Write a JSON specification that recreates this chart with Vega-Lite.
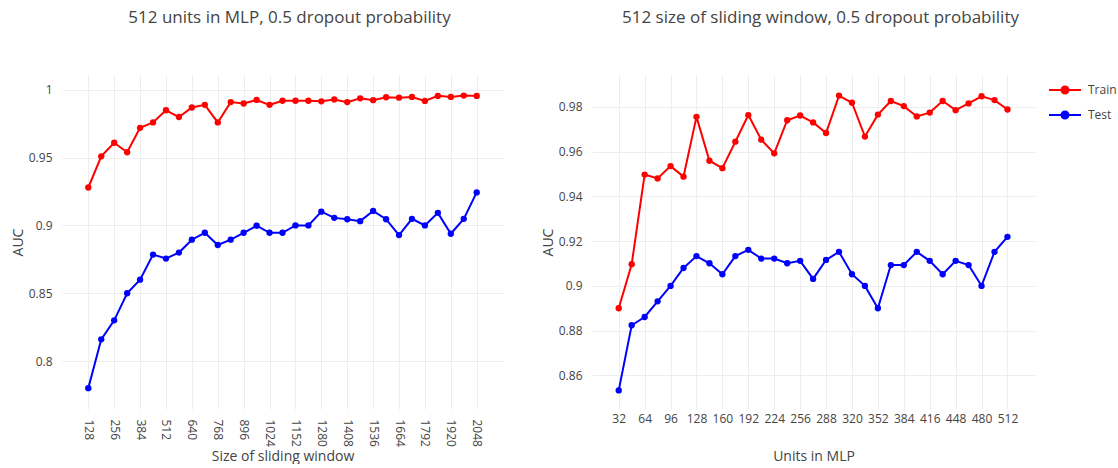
{
  "$schema": "https://vega.github.io/schema/vega-lite/v6.json",
  "padding": {"left": 11, "top": 9, "right": 0, "bottom": 0},
  "background": "white",
  "spacing": 38,
  "config": {
    "font": "Open Sans",
    "view": {"stroke": null},
    "axis": {"labelFont": "Open Sans", "labelFontSize": 12, "labelColor": "#444444", "titleFont": "Open Sans", "titleFontSize": 14, "titleColor": "#444444", "titleFontWeight": "normal", "gridColor": "#eeeeee", "gridWidth": 1, "domain": false, "ticks": false, "labelOverlap": false},
    "title": {"font": "Open Sans", "fontSize": 17, "color": "#444444", "fontWeight": "normal", "anchor": "middle", "frame": "group"}
  },
  "datasets": {
    "mlp": [
      {"size": 128, "series": "Train", "auc": 0.928}, {"size": 192, "series": "Train", "auc": 0.951}, {"size": 256, "series": "Train", "auc": 0.961}, {"size": 320, "series": "Train", "auc": 0.954}, {"size": 384, "series": "Train", "auc": 0.972}, {"size": 448, "series": "Train", "auc": 0.976}, {"size": 512, "series": "Train", "auc": 0.985}, {"size": 576, "series": "Train", "auc": 0.980}, {"size": 640, "series": "Train", "auc": 0.987}, {"size": 704, "series": "Train", "auc": 0.989}, {"size": 768, "series": "Train", "auc": 0.976}, {"size": 832, "series": "Train", "auc": 0.991}, {"size": 896, "series": "Train", "auc": 0.990}, {"size": 960, "series": "Train", "auc": 0.9926}, {"size": 1024, "series": "Train", "auc": 0.989}, {"size": 1088, "series": "Train", "auc": 0.992}, {"size": 1152, "series": "Train", "auc": 0.992}, {"size": 1216, "series": "Train", "auc": 0.992}, {"size": 1280, "series": "Train", "auc": 0.9916}, {"size": 1344, "series": "Train", "auc": 0.993}, {"size": 1408, "series": "Train", "auc": 0.991}, {"size": 1472, "series": "Train", "auc": 0.9938}, {"size": 1536, "series": "Train", "auc": 0.9924}, {"size": 1600, "series": "Train", "auc": 0.9946}, {"size": 1664, "series": "Train", "auc": 0.9943}, {"size": 1728, "series": "Train", "auc": 0.9948}, {"size": 1792, "series": "Train", "auc": 0.9919}, {"size": 1856, "series": "Train", "auc": 0.9956}, {"size": 1920, "series": "Train", "auc": 0.9948}, {"size": 1984, "series": "Train", "auc": 0.9958}, {"size": 2048, "series": "Train", "auc": 0.9956},
      {"size": 128, "series": "Test", "auc": 0.780}, {"size": 192, "series": "Test", "auc": 0.816}, {"size": 256, "series": "Test", "auc": 0.830}, {"size": 320, "series": "Test", "auc": 0.850}, {"size": 384, "series": "Test", "auc": 0.860}, {"size": 448, "series": "Test", "auc": 0.8785}, {"size": 512, "series": "Test", "auc": 0.8756}, {"size": 576, "series": "Test", "auc": 0.880}, {"size": 640, "series": "Test", "auc": 0.8895}, {"size": 704, "series": "Test", "auc": 0.8946}, {"size": 768, "series": "Test", "auc": 0.8856}, {"size": 832, "series": "Test", "auc": 0.8895}, {"size": 896, "series": "Test", "auc": 0.8946}, {"size": 960, "series": "Test", "auc": 0.8998}, {"size": 1024, "series": "Test", "auc": 0.8946}, {"size": 1088, "series": "Test", "auc": 0.8946}, {"size": 1152, "series": "Test", "auc": 0.900}, {"size": 1216, "series": "Test", "auc": 0.900}, {"size": 1280, "series": "Test", "auc": 0.9102}, {"size": 1344, "series": "Test", "auc": 0.9056}, {"size": 1408, "series": "Test", "auc": 0.9046}, {"size": 1472, "series": "Test", "auc": 0.9032}, {"size": 1536, "series": "Test", "auc": 0.9107}, {"size": 1600, "series": "Test", "auc": 0.9046}, {"size": 1664, "series": "Test", "auc": 0.8929}, {"size": 1728, "series": "Test", "auc": 0.9049}, {"size": 1792, "series": "Test", "auc": 0.900}, {"size": 1856, "series": "Test", "auc": 0.9093}, {"size": 1920, "series": "Test", "auc": 0.8939}, {"size": 1984, "series": "Test", "auc": 0.9049}, {"size": 2048, "series": "Test", "auc": 0.9244}
    ],
    "win": [
      {"units": 32, "series": "Train", "auc": 0.890}, {"units": 48, "series": "Train", "auc": 0.9097}, {"units": 64, "series": "Train", "auc": 0.9497}, {"units": 80, "series": "Train", "auc": 0.948}, {"units": 96, "series": "Train", "auc": 0.9535}, {"units": 112, "series": "Train", "auc": 0.9488}, {"units": 128, "series": "Train", "auc": 0.9755}, {"units": 144, "series": "Train", "auc": 0.9559}, {"units": 160, "series": "Train", "auc": 0.9526}, {"units": 176, "series": "Train", "auc": 0.9644}, {"units": 192, "series": "Train", "auc": 0.9763}, {"units": 208, "series": "Train", "auc": 0.9653}, {"units": 224, "series": "Train", "auc": 0.9592}, {"units": 240, "series": "Train", "auc": 0.974}, {"units": 256, "series": "Train", "auc": 0.9761}, {"units": 272, "series": "Train", "auc": 0.973}, {"units": 288, "series": "Train", "auc": 0.9683}, {"units": 304, "series": "Train", "auc": 0.985}, {"units": 320, "series": "Train", "auc": 0.9818}, {"units": 336, "series": "Train", "auc": 0.9667}, {"units": 352, "series": "Train", "auc": 0.9765}, {"units": 368, "series": "Train", "auc": 0.9826}, {"units": 384, "series": "Train", "auc": 0.9803}, {"units": 400, "series": "Train", "auc": 0.9757}, {"units": 416, "series": "Train", "auc": 0.9774}, {"units": 432, "series": "Train", "auc": 0.9826}, {"units": 448, "series": "Train", "auc": 0.9785}, {"units": 464, "series": "Train", "auc": 0.9815}, {"units": 480, "series": "Train", "auc": 0.9847}, {"units": 496, "series": "Train", "auc": 0.983}, {"units": 512, "series": "Train", "auc": 0.9788},
      {"units": 32, "series": "Test", "auc": 0.8533}, {"units": 48, "series": "Test", "auc": 0.8824}, {"units": 64, "series": "Test", "auc": 0.8861}, {"units": 80, "series": "Test", "auc": 0.8931}, {"units": 96, "series": "Test", "auc": 0.900}, {"units": 112, "series": "Test", "auc": 0.908}, {"units": 128, "series": "Test", "auc": 0.9133}, {"units": 144, "series": "Test", "auc": 0.9101}, {"units": 160, "series": "Test", "auc": 0.9052}, {"units": 176, "series": "Test", "auc": 0.9133}, {"units": 192, "series": "Test", "auc": 0.9161}, {"units": 208, "series": "Test", "auc": 0.9122}, {"units": 224, "series": "Test", "auc": 0.9122}, {"units": 240, "series": "Test", "auc": 0.9101}, {"units": 256, "series": "Test", "auc": 0.9112}, {"units": 272, "series": "Test", "auc": 0.9031}, {"units": 288, "series": "Test", "auc": 0.9116}, {"units": 304, "series": "Test", "auc": 0.9152}, {"units": 320, "series": "Test", "auc": 0.9052}, {"units": 336, "series": "Test", "auc": 0.900}, {"units": 352, "series": "Test", "auc": 0.890}, {"units": 368, "series": "Test", "auc": 0.9093}, {"units": 384, "series": "Test", "auc": 0.9093}, {"units": 400, "series": "Test", "auc": 0.9152}, {"units": 416, "series": "Test", "auc": 0.9112}, {"units": 432, "series": "Test", "auc": 0.9052}, {"units": 448, "series": "Test", "auc": 0.9112}, {"units": 464, "series": "Test", "auc": 0.9093}, {"units": 480, "series": "Test", "auc": 0.900}, {"units": 496, "series": "Test", "auc": 0.9152}, {"units": 512, "series": "Test", "auc": 0.9219}
    ]
  },
  "hconcat": [
    {
      "width": 441,
      "height": 334,
      "data": {"name": "mlp"},
      "title": {"text": "512 units in MLP, 0.5 dropout probability", "offset": 48, "dx": 7},
      "encoding": {
        "x": {"field": "size", "type": "quantitative", "scale": {"domain": [-2, 2178], "nice": false, "zero": false}, "axis": {"values": [128, 256, 384, 512, 640, 768, 896, 1024, 1152, 1280, 1408, 1536, 1664, 1792, 1920, 2048], "format": "d", "labelAngle": 90, "labelPadding": 10, "title": "Size of sliding window", "titlePadding": 3, "labelFlush": false}},
        "y": {"field": "auc", "type": "quantitative", "scale": {"domain": [0.7646, 1.011], "nice": false, "zero": false}, "axis": {"values": [0.8, 0.85, 0.9, 0.95, 1], "format": "~g", "labelPadding": 10, "minExtent": 35, "maxExtent": 35, "title": "AUC", "titlePadding": 2}},
        "color": {"field": "series", "type": "nominal", "scale": {"domain": ["Train", "Test"], "range": ["#ff0000", "#0000ff"]}, "legend": null}
      },
      "layer": [
        {"mark": {"type": "line", "strokeWidth": 2}},
        {"mark": {"type": "point", "filled": true, "size": 40, "opacity": 1}}
      ]
    },
    {
      "width": 443,
      "height": 334,
      "data": {"name": "win"},
      "title": {"text": "512 size of sliding window, 0.5 dropout probability", "offset": 48, "dx": 7},
      "encoding": {
        "x": {"field": "units", "type": "quantitative", "scale": {"domain": [-1, 546], "nice": false, "zero": false}, "axis": {"values": [32, 64, 96, 128, 160, 192, 224, 256, 288, 320, 352, 384, 416, 448, 480, 512], "format": "d", "labelAngle": 0, "labelPadding": 4, "title": "Units in MLP", "titlePadding": 25, "labelFlush": false}},
        "y": {"field": "auc", "type": "quantitative", "scale": {"domain": [0.845, 0.9942], "nice": false, "zero": false}, "axis": {"values": [0.86, 0.88, 0.9, 0.92, 0.94, 0.96, 0.98], "format": "~g", "labelPadding": 10, "minExtent": 35, "maxExtent": 35, "title": "AUC", "titlePadding": 2}},
        "color": {"field": "series", "type": "nominal", "scale": {"domain": ["Train", "Test"], "range": ["#ff0000", "#0000ff"]}, "legend": {"orient": "none", "legendX": 467, "legendY": 9, "title": null, "padding": 0, "symbolType": "M-4,0H4M-0.875,0A0.875,0.875,0,1,0,0.875,0A0.875,0.875,0,1,0,-0.875,0Z", "symbolSize": 64, "symbolStrokeWidth": 2, "labelOffset": 17, "rowPadding": 9, "labelFont": "Open Sans", "labelFontSize": 12, "labelColor": "#444444"}}
      },
      "layer": [
        {"mark": {"type": "line", "strokeWidth": 2}},
        {"mark": {"type": "point", "filled": true, "size": 40, "opacity": 1}}
      ]
    }
  ],
  "resolve": {"legend": {"color": "independent"}, "scale": {"color": "independent"}}
}
